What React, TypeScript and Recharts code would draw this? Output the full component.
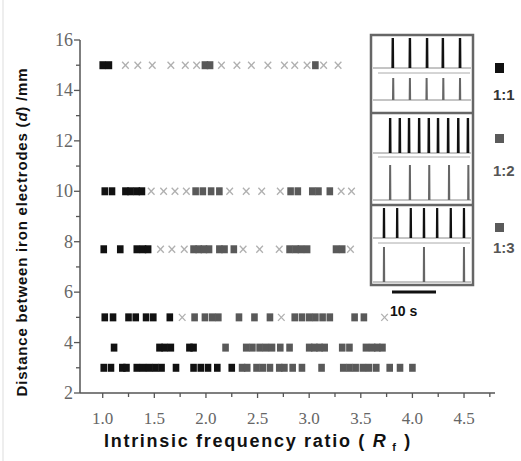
import { ScatterChart, Scatter, XAxis, YAxis, LineChart, Line, ReferenceLine } from "recharts";

// electrode distances d (mm), one row of markers per value
const DISTANCES = [15, 10, 7.7, 5, 3.8, 3];

// intrinsic frequency ratio Rf of each marker, rows follow DISTANCES
const SYNC_1_1 = [
  [1.0, 1.06],
  [1.02, 1.09, 1.22, 1.27, 1.33, 1.38],
  [1.01, 1.17, 1.33, 1.39, 1.44],
  [1.02, 1.1, 1.25, 1.32, 1.42, 1.49, 1.65],
  [1.11, 1.55, 1.6, 1.66, 1.84, 1.88],
  [1.01, 1.08, 1.19, 1.23, 1.33, 1.39, 1.45, 1.51, 1.57, 1.71, 1.88, 1.95, 2.02, 2.11, 2.25],
];
const SYNC_1_2 = [
  [1.99, 2.04],
  [1.9, 1.97, 2.05, 2.13],
  [1.88, 1.93, 1.98, 2.03, 2.13, 2.18, 2.27],
  [1.89, 1.99, 2.06, 2.12, 2.32, 2.47],
  [2.19, 2.39, 2.45],
  [2.35, 2.4, 2.49],
];
const SYNC_1_3 = [
  [3.06],
  [2.82, 2.89, 3.03, 3.09, 3.2],
  [2.81, 2.87, 2.92, 2.98, 3.26, 3.32],
  [2.62, 2.86, 2.93, 3.0, 3.06, 3.13, 3.2, 3.44, 3.53],
  [2.52, 2.58, 2.64, 2.72, 2.81, 3.0, 3.05, 3.1, 3.15, 3.32, 3.39, 3.55, 3.61, 3.66, 3.71],
  [2.55, 2.62, 2.71, 2.76, 2.84, 2.93, 3.12, 3.33, 3.39, 3.45, 3.52, 3.58, 3.65, 3.78, 3.88, 4.0],
];
const NO_SYNC = [
  [1.22, 1.34, 1.48, 1.66, 1.8, 1.91, 2.15, 2.3, 2.44, 2.6, 2.76, 2.86, 2.98, 3.14, 3.28],
  [1.47, 1.59, 1.7, 1.81, 2.23, 2.39, 2.54, 2.72, 3.31, 3.41],
  [1.56, 1.67, 1.79, 2.36, 2.52, 2.71, 3.4],
  [1.77, 2.73, 3.73],
  [],
  [],
];

const X_TICKS = [1, 1.25, 1.5, 1.75, 2, 2.25, 2.5, 2.75, 3, 3.25, 3.5, 3.75, 4, 4.25, 4.5, 4.75];
const Y_TICKS = [2, 3, 4, 5, 6, 7, 8, 9, 10, 11, 12, 13, 14, 15, 16];

// spike times (s) in the inset traces, A = upper trace, B = lower trace
const SPIKES_11_A = [4.5, 8.4, 12.3, 15.9, 19.8];
const SPIKES_11_B = [4.6, 8.4, 12.2, 16.0, 19.8];
const SPIKES_12_A = [3.9, 6.1, 8.2, 10.5, 12.7, 14.8, 17.1, 19.4, 21.6];
const SPIKES_12_B = [3.9, 8.4, 12.8, 17.3, 21.7];
const SPIKES_13_A = [2.5, 5.5, 8.6, 11.6, 14.6, 17.7, 20.7];
const SPIKES_13_B = [2.5, 11.6, 20.7];
const TRACE_LEN = 22.3;

const toPoints = (rows: number[][]) =>
  rows.flatMap((xs, i) => xs.map((rf) => ({ rf, d: DISTANCES[i] })));

// each spike is its own short segment; null breaks the line between spikes
const toTrace = (spikes: number[]) =>
  spikes.flatMap((s) => [
    { t: s - 0.05, v: 0 },
    { t: s, v: 1 },
    { t: s + 0.05, v: 0 },
    { t: s + 0.06, v: null },
  ]);

const serif = "Liberation Serif";
const sans = "Liberation Sans";

const Box = (fill: string) => (p: any) =>
  <rect x={p.cx - 3.3} y={p.cy - 4} width={6.6} height={8} fill={fill} />;

const Cross = (p: any) => (
  <g stroke="#b0b0b0" strokeWidth={1.3}>
    <line x1={p.cx - 3.3} y1={p.cy - 3.5} x2={p.cx + 3.3} y2={p.cy + 3.5} />
    <line x1={p.cx - 3.3} y1={p.cy + 3.5} x2={p.cx + 3.3} y2={p.cy - 3.5} />
  </g>
);

const XTick = ({ x, y, payload }: any) => {
  const v = payload.value;
  const major = Math.abs(v * 2 - Math.round(v * 2)) < 1e-6;
  return (
    <g>
      <line x1={x} y1={y} x2={x} y2={y + (major ? 5 : 4)} stroke="#555" strokeWidth={1.3} />
      {major && (
        <text x={x} y={y + 31} textAnchor="middle" style={{ fontFamily: serif, fontSize: 17 }} fill="#666">
          {v.toFixed(1)}
        </text>
      )}
    </g>
  );
};

const YTick = ({ x, y, payload }: any) => {
  const v = payload.value;
  const major = v % 2 === 0;
  return (
    <g>
      <line x1={x - (major ? 6 : 4)} y1={y} x2={x} y2={y} stroke="#555" strokeWidth={1.3} />
      {major && (
        <text x={x - 7} y={y + 6} textAnchor="end" style={{ fontFamily: serif, fontSize: 18 }} fill="#666">
          {v}
        </text>
      )}
    </g>
  );
};

// inset traces: [spikes, top(peak) px, baseline px, colour, stroke width]
const TRACES: [number[], number, number, string, number][] = [
  [SPIKES_11_A, 38, 68, "#111", 2.4],
  [SPIKES_11_B, 78, 100, "#666", 2.0],
  [SPIKES_12_A, 118, 153, "#111", 2.4],
  [SPIKES_12_B, 165, 200, "#666", 2.0],
  [SPIKES_13_A, 208, 238, "#111", 2.2],
  [SPIKES_13_B, 247, 282, "#666", 2.0],
];

function Trace({ spikes, top, base, color, sw }: any) {
  return (
    <div style={{ position: "absolute", left: 373, top: top - 2 }}>
      <LineChart width={98} height={base - top + 4} data={toTrace(spikes)} margin={{ top: 2, right: 0, bottom: 2, left: 0 }}>
        <XAxis type="number" dataKey="t" domain={[0, TRACE_LEN]} hide />
        <YAxis type="number" domain={[0, 1]} hide />
        <ReferenceLine y={0} stroke="#8a8a8a" strokeWidth={1} />
        <Line type="linear" dataKey="v" stroke={color} strokeWidth={sw} dot={false} connectNulls={false} isAnimationActive={false} />
      </LineChart>
    </div>
  );
}

export default function App() {
  return (
    <div style={{ position: "absolute", left: 0, top: 0, width: 521, height: 461, background: "#fff" }}>
      <ScatterChart width={521} height={461} margin={{ top: 40, right: 26, bottom: 38, left: 30 }}>
        <XAxis
          type="number"
          dataKey="rf"
          domain={[0.78, 4.8]}
          ticks={X_TICKS}
          interval={0}
          tick={<XTick />}
          tickLine={false}
          tickSize={0}
          tickMargin={0}
          height={30}
          axisLine={{ stroke: "#555", strokeWidth: 1.5 }}
          allowDataOverflow
        />
        <YAxis
          type="number"
          dataKey="d"
          domain={[2, 16]}
          ticks={Y_TICKS}
          interval={0}
          tick={<YTick />}
          tickLine={false}
          tickSize={0}
          tickMargin={0}
          width={50}
          axisLine={{ stroke: "#555", strokeWidth: 1.5 }}
          allowDataOverflow
        />
        <Scatter name="none" data={toPoints(NO_SYNC)} shape={Cross} isAnimationActive={false} />
        <Scatter name="1:1" data={toPoints(SYNC_1_1)} shape={Box("#111")} isAnimationActive={false} />
        <Scatter name="1:2" data={toPoints(SYNC_1_2)} shape={Box("#595959")} isAnimationActive={false} />
        <Scatter name="1:3" data={toPoints(SYNC_1_3)} shape={Box("#595959")} isAnimationActive={false} />
      </ScatterChart>

      {TRACES.map(([spikes, top, base, color, sw], i) => (
        <Trace key={i} spikes={spikes} top={top} base={base} color={color} sw={sw} />
      ))}

      <svg width={521} height={461} style={{ position: "absolute", left: 0, top: 0, pointerEvents: "none" }}>
        <line x1={3} y1={0} x2={3} y2={461} stroke="#ddd" strokeWidth={1} />
        {/* inset frame */}
        <g stroke="#aaa" strokeWidth={1}>
          <line x1={378} y1={73} x2={470} y2={73} />
          <line x1={378} y1={157} x2={470} y2={157} />
          <line x1={378} y1={243} x2={470} y2={243} />
        </g>
        <rect x={371} y={35} width={102} height={250} fill="none" stroke="#666" strokeWidth={2.5} />
        <line x1={371} y1={113} x2={473} y2={113} stroke="#666" strokeWidth={2.5} />
        <line x1={371} y1={205} x2={473} y2={205} stroke="#666" strokeWidth={2.5} />
        <line x1={392} y1={292} x2={436} y2={292} stroke="#111" strokeWidth={3} />
        <text x={390} y={316} style={{ fontFamily: sans, fontWeight: "bold", fontSize: 14 }} fill="#111">10 s</text>

        {/* legend */}
        <rect x={495} y={63} width={9} height={10} fill="#111" />
        <text x={493} y={100} style={{ fontFamily: sans, fontWeight: "bold", fontSize: 15 }} fill="#333">1:1</text>
        <rect x={495} y={134} width={9} height={9} fill="#5a5a5a" />
        <text x={493} y={176} style={{ fontFamily: sans, fontWeight: "bold", fontSize: 15 }} fill="#555">1:2</text>
        <rect x={495} y={223} width={9} height={9} fill="#5a5a5a" />
        <text x={493} y={253} style={{ fontFamily: sans, fontWeight: "bold", fontSize: 15 }} fill="#555">1:3</text>

        {/* axis titles */}
        <text
          transform="translate(27, 232) rotate(-90)"
          textAnchor="middle"
          style={{ fontFamily: sans, fontWeight: "bold", fontSize: 15, letterSpacing: 0.8 }}
          fill="#111"
        >
          Distance between iron electrodes (<tspan fontStyle="italic">d</tspan>) /mm
        </text>
        <text
          x={258}
          y={447}
          textAnchor="middle"
          style={{ fontFamily: sans, fontWeight: "bold", fontSize: 18, letterSpacing: 1.7 }}
          fill="#111"
        >
          Intrinsic frequency ratio ( <tspan fontStyle="italic">R</tspan>
          <tspan fontSize={11} dy={4}> f</tspan>
          <tspan dy={-4}> )</tspan>
        </text>
      </svg>
    </div>
  );
}
